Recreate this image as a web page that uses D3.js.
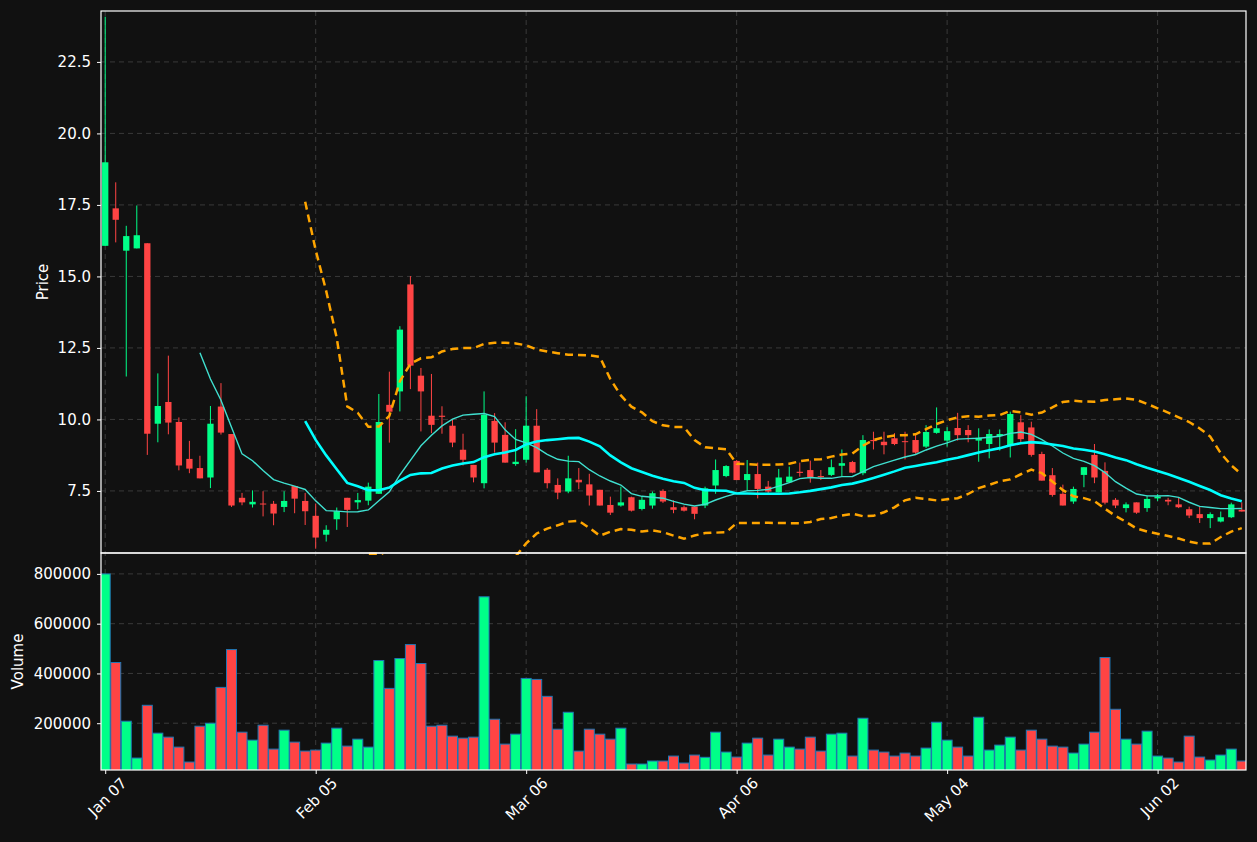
<!DOCTYPE html>
<html><head><meta charset="utf-8">
<script src="https://cdn.jsdelivr.net/npm/d3@7"></script>
<style>body{margin:0;background:#111111;}svg{display:block;font-family:"DejaVu Sans",sans-serif;}</style>
</head><body><svg id="c" width="1257" height="842"></svg>
<script>
const opens  = [16.07,17.38,15.90,15.98,16.16,9.85,10.61,9.91,8.62,8.30,7.97,10.45,9.49,7.26,7.03,7.06,7.05,6.94,7.67,7.15,6.63,5.97,6.51,7.26,7.10,7.16,7.40,10.51,10.98,14.72,11.53,10.13,10.13,9.78,8.94,8.41,7.77,9.95,9.46,8.44,8.59,9.78,8.24,7.71,7.48,7.89,7.73,7.54,7.01,6.99,7.28,6.87,6.99,7.50,6.93,6.93,6.95,6.99,7.69,8.02,8.55,7.88,8.09,7.65,7.45,7.80,8.17,8.23,8.02,8.06,8.38,8.51,8.12,9.28,9.22,9.34,9.24,9.28,9.05,9.53,9.26,9.70,9.63,9.26,9.14,9.42,9.10,9.90,9.72,8.79,8.05,7.40,7.13,8.06,8.76,8.20,7.19,6.90,7.10,6.90,7.24,7.19,7.03,6.86,6.69,6.55,6.43,6.58,6.84];
const closes = [18.99,16.98,16.41,16.44,9.50,10.47,9.89,8.39,8.28,7.94,9.85,9.54,6.99,7.10,7.12,7.03,6.71,7.15,7.23,6.79,5.87,6.14,6.79,6.84,7.18,7.65,9.91,10.27,13.14,11.88,10.98,9.81,10.09,9.19,8.59,7.97,10.16,9.19,8.49,8.52,9.78,8.15,7.77,7.44,7.94,7.80,7.34,6.99,6.74,7.10,6.81,7.19,7.42,7.13,6.84,6.81,6.70,7.59,8.23,8.37,7.88,8.09,7.57,7.48,7.97,8.00,8.13,7.98,7.98,8.33,8.47,8.14,9.28,9.24,9.10,9.14,9.22,8.84,9.56,9.69,9.59,9.45,9.45,9.36,9.49,9.49,10.19,9.31,8.76,7.86,7.36,6.99,7.57,8.33,7.97,7.09,6.99,7.03,6.74,7.22,7.30,7.13,6.93,6.64,6.55,6.69,6.58,7.03,6.78];
const highs  = [24.08,18.29,16.77,17.48,16.16,11.61,12.23,10.07,9.25,8.73,10.47,11.27,9.49,7.43,7.52,7.49,7.15,7.49,7.67,7.43,7.06,6.30,6.92,7.26,7.43,7.79,10.89,11.67,13.26,15.01,11.80,11.59,10.46,10.01,9.50,8.41,10.98,10.22,9.90,9.66,10.81,10.36,8.30,7.94,8.73,8.30,8.10,7.54,7.30,7.65,7.30,7.30,7.48,7.56,7.17,6.99,6.95,7.65,8.60,8.40,8.58,8.58,8.49,7.85,8.27,8.35,8.49,8.56,8.23,8.60,8.95,8.55,9.45,9.57,9.57,9.52,9.57,9.52,9.80,10.42,9.73,10.23,9.80,9.69,9.65,9.65,10.27,10.15,9.92,8.87,8.30,7.72,7.65,8.33,9.14,8.50,7.25,7.10,7.10,7.33,7.39,7.26,7.26,6.95,6.95,6.75,6.78,7.09,7.10];
const lows   = [16.07,16.19,11.50,15.98,8.76,9.20,9.48,8.22,8.12,7.94,7.60,9.47,6.94,7.00,6.92,6.61,6.30,6.76,6.72,6.31,5.48,5.73,6.14,6.24,6.86,7.00,7.40,9.19,10.28,11.06,9.58,9.52,9.50,9.03,8.39,7.80,7.59,8.84,8.49,8.38,8.49,8.15,7.59,7.21,7.42,7.56,6.99,6.99,6.66,6.95,6.78,6.82,6.88,7.08,6.72,6.78,6.51,6.90,7.40,7.98,7.88,7.53,7.24,7.42,7.45,7.78,8.00,7.79,7.88,8.02,8.02,8.12,8.05,8.95,8.78,9.10,8.60,8.80,9.00,9.50,9.05,9.26,9.20,8.52,8.64,8.91,8.67,9.14,8.70,7.86,7.30,6.99,7.05,7.63,7.77,7.03,6.90,6.75,6.70,6.77,7.15,7.00,6.90,6.55,6.38,6.20,6.40,6.55,6.78];
const volumes = [800000,444000,208000,60000,272000,160000,144000,104000,44000,188000,200000,344000,496000,164000,132000,192000,96000,172000,124000,88000,92000,120000,180000,108000,136000,104000,452000,340000,460000,516000,440000,188000,192000,148000,140000,144000,708000,216000,116000,156000,380000,376000,308000,176000,244000,88000,176000,156000,136000,180000,36000,36000,48000,48000,68000,40000,72000,63000,164000,84000,64000,120000,140000,72000,136000,104000,96000,144000,88000,156000,160000,68000,220000,92000,84000,68000,80000,68000,100000,204000,132000,104000,68000,224000,92000,112000,144000,92000,172000,136000,108000,104000,80000,116000,164000,464000,256000,136000,116000,168000,68000,60000,44000,148000,64000,52000,72000,96000,48000];
const dateTicks = [0,20,40,60,80,100];
const dateLabels = ["Jan 07","Feb 05","Mar 06","Apr 06","May 04","Jun 02"];
const priceTicks = [7.5,10.0,12.5,15.0,17.5,20.0,22.5];
const volumeTicks = [200000,400000,600000,800000];

const svg = d3.select("#c");
const L=101,R=1246,T=11,M=553,B=770;
const n = closes.length;
const x = d3.scaleLinear().domain([-0.4,n-0.6]).range([L,R]);
const yP = d3.scaleLinear().domain([5.33,24.28]).range([M,T]);
const yV = d3.scaleLinear().domain([12000,884000]).range([B,M]);
const UP="#00ff88", DN="#ff4444";
const idx = d3.range(n);

svg.append("rect").attr("width",1257).attr("height",842).attr("fill","#111111");
const defs=svg.append("defs");
defs.append("clipPath").attr("id","cp").append("rect").attr("x",L).attr("y",T).attr("width",R-L).attr("height",M-T+2);
defs.append("clipPath").attr("id","cv").append("rect").attr("x",L).attr("y",M).attr("width",R-L).attr("height",B-M);

const g=svg.append("g").attr("stroke","#3a3a3a").attr("stroke-dasharray","5,4").attr("stroke-width",1);
dateTicks.forEach(t=>{g.append("line").attr("x1",x(t)).attr("x2",x(t)).attr("y1",T).attr("y2",B);});
priceTicks.forEach(t=>{g.append("line").attr("x1",L).attr("x2",R).attr("y1",yP(t)).attr("y2",yP(t));});
volumeTicks.forEach(t=>{g.append("line").attr("x1",L).attr("x2",R).attr("y1",yV(t)).attr("y2",yV(t));});

const pc=svg.append("g").attr("clip-path","url(#cp)");
const col=i=>closes[i]>=opens[i]?UP:DN;
pc.selectAll(".w").data(idx).join("line").attr("x1",i=>x(i)).attr("x2",i=>x(i))
  .attr("y1",i=>yP(highs[i])).attr("y2",i=>yP(lows[i])).attr("stroke",col).attr("stroke-width",1);
const bw=(x(1)-x(0))*0.6;
pc.selectAll(".b").data(idx).join("rect").attr("x",i=>x(i)-bw/2).attr("width",bw)
  .attr("y",i=>yP(Math.max(opens[i],closes[i])))
  .attr("height",i=>Math.max(1,Math.abs(yP(opens[i])-yP(closes[i])))).attr("fill",col);

function sma(k){return idx.map(i=>i<k-1?null:d3.mean(closes.slice(i-k+1,i+1)));}
function sd(k){return idx.map(i=>i<k-1?null:d3.deviation(closes.slice(i-k+1,i+1))*Math.sqrt((k-1)/k));}
const ma10=sma(10), ma20=sma(20), sd20=sd(20);
const up=idx.map(i=>ma20[i]==null?null:ma20[i]+2*sd20[i]);
const lo=idx.map(i=>ma20[i]==null?null:ma20[i]-2*sd20[i]);
const line=arr=>d3.line().defined(i=>arr[i]!=null).x(i=>x(i)).y(i=>yP(arr[i]))(idx);
pc.append("path").attr("d",line(up)).attr("fill","none").attr("stroke","#ffa500").attr("stroke-width",2.5).attr("stroke-dasharray","8,5");
pc.append("path").attr("d",line(lo)).attr("fill","none").attr("stroke","#ffa500").attr("stroke-width",2.5).attr("stroke-dasharray","8,5");
pc.append("path").attr("d",line(ma10)).attr("fill","none").attr("stroke","#40e0d0").attr("stroke-width",1.4);
pc.append("path").attr("d",line(ma20)).attr("fill","none").attr("stroke","#00ffff").attr("stroke-width",2.6);

const vc=svg.append("g").attr("clip-path","url(#cv)");
const vw=(x(1)-x(0))*0.95;
vc.selectAll("rect").data(idx).join("rect").attr("x",i=>x(i)-vw/2).attr("width",vw)
  .attr("y",i=>yV(volumes[i])).attr("height",i=>B+5-yV(volumes[i]))
  .attr("fill",col).attr("stroke","#1f77b4").attr("stroke-width",1);

svg.append("rect").attr("x",L).attr("y",T).attr("width",R-L).attr("height",M-T).attr("fill","none").attr("stroke","#fff").attr("stroke-width",1.2);
svg.append("rect").attr("x",L).attr("y",M).attr("width",R-L).attr("height",B-M).attr("fill","none").attr("stroke","#fff").attr("stroke-width",1.2);

const ap=svg.append("g").attr("transform",`translate(${L},0)`).call(d3.axisLeft(yP).tickValues(priceTicks).tickFormat(d3.format(".1f")).tickSize(4).tickPadding(6));
const av=svg.append("g").attr("transform",`translate(${L},0)`).call(d3.axisLeft(yV).tickValues(volumeTicks).tickFormat(d3.format("d")).tickSize(4).tickPadding(6));
const ax=svg.append("g").attr("transform",`translate(0,${B})`).call(d3.axisBottom(x).tickValues(dateTicks).tickFormat((d,i)=>dateLabels[i]).tickSize(4).tickPadding(4));
ax.selectAll("text").attr("text-anchor","end").attr("transform","translate(10,2) rotate(-45)").attr("dx","0").attr("dy","0.6em");
[ap,av,ax].forEach(a=>{a.select(".domain").remove();a.selectAll("line").attr("stroke","#fff");a.selectAll("text").attr("fill","#fff").style("font-size","15px").style("font-family","DejaVu Sans");});

svg.append("text").attr("transform",`translate(48,${(T+M)/2}) rotate(-90)`).attr("text-anchor","middle").attr("fill","#fff").style("font-size","15px").text("Price");
svg.append("text").attr("transform",`translate(23,${(M+B)/2}) rotate(-90)`).attr("text-anchor","middle").attr("fill","#fff").style("font-size","15px").text("Volume");
</script></body></html>
